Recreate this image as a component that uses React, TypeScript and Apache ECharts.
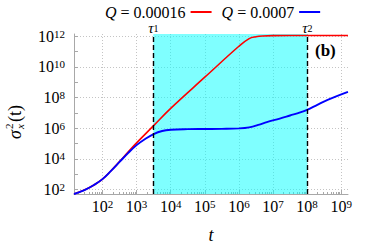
import React, { useEffect, useRef } from "react";
import * as echarts from "echarts";

// ---- data ----
const RED_T = [14.6, 20, 31.6, 56.2, 100, 178, 316, 562, 1000, 3160, 1e4, 1e5, 1e6, 2e6, 3.16e6, 5e6, 1e7, 1e8, 1.58e9];
const RED_S = [51.3, 66.1, 100, 200, 479, 1700, 6610, 2.82e4, 1.12e5, 1.48e6, 2e7, 2.14e9, 2.24e11, 7.08e11, 9.33e11, 1.05e12, 1.1e12, 1.12e12, 1.12e12];

const BLUE_T = [14.6, 20, 31.6, 56.2, 100, 178, 316, 562, 1000, 1780, 3160, 5620, 1e4, 3.16e4, 1e5, 3.16e5, 1e6, 2e6, 4e6, 6.6e6, 1.58e7, 3.16e7, 6.3e7, 1e8, 2e8, 4e8, 1.58e9];
const BLUE_S = [51.3, 66.1, 100, 200, 479, 1660, 6310, 2.4e4, 7.94e4, 2e5, 4.17e5, 6.61e5, 7.94e5, 8.71e5, 8.91e5, 9.12e5, 9.77e5, 1.15e6, 1.74e6, 2.51e6, 4.27e6, 6.76e6, 1.07e7, 1.58e7, 3.39e7, 7.08e7, 2.34e8];

const SERIES_NAMES = ["Q = 0.00016", "Q = 0.0007"];
const TAU = [3100, 1.02e8];
const TAU_LABELS = ["1", "2"];

const X_MAJOR = [1e2, 1e3, 1e4, 1e5, 1e6, 1e7, 1e8, 1e9];
const MINOR_MULTS = [2, 3, 4, 5, 6, 7, 8, 9];
const X_MINOR_DECADES = [10, 1e2, 1e3, 1e4, 1e5, 1e6, 1e7, 1e8, 1e9];
const Y_MAJOR = [1e2, 1e4, 1e6, 1e8, 1e10, 1e12];
const Y_ODD = [1e3, 1e5, 1e7, 1e9, 1e11];

const X_MIN = 14.6;
const X_MAX = 1.585e9;
const Y_MIN = 51.3;
const Y_MAX = 1.41e12;

const FONT = "'Liberation Serif', 'DejaVu Serif', serif";
const AXIS_GRAY = "#a8a8a8";

const X_MINOR: number[] = [];
X_MINOR_DECADES.forEach((d) => MINOR_MULTS.forEach((m) => X_MINOR.push(d * m)));

const powLabel = (v: number) => `{b|10}{s|${Math.round(Math.log10(v))}}`;
const powRich = {
  b: { fontSize: 16, fontFamily: FONT, color: "#000", verticalAlign: "bottom" },
  s: { fontSize: 11, fontFamily: FONT, color: "#000", verticalAlign: "top" },
};

export default function App() {
  const ref = useRef<HTMLDivElement>(null);

  useEffect(() => {
    if (!ref.current) return;
    const chart = echarts.init(ref.current, undefined, { renderer: "svg" });

    const red = RED_T.map((t, i) => [t, RED_S[i]]);
    const blue = BLUE_T.map((t, i) => [t, BLUE_S[i]]);

    const option: any = {
      animation: false,
      backgroundColor: "#fff",
      grid: { left: 74, right: 26, top: 34, bottom: 51 },
      legend: {
        top: -1,
        left: 100,
        align: "right",
        icon: "rect",
        itemWidth: 21,
        itemHeight: 2,
        itemGap: 10,
        data: SERIES_NAMES,
        formatter: (n: string) => n.replace("Q", "{i|Q}"),
        textStyle: {
          fontFamily: FONT,
          fontSize: 16,
          lineHeight: 15,
          color: "#000",
          rich: { i: { fontFamily: FONT, fontSize: 16, lineHeight: 15, fontStyle: "italic", color: "#000" } },
        },
      },
      xAxis: [
        {
          type: "log",
          logBase: 10,
          min: X_MIN,
          max: X_MAX,
          position: "bottom",
          name: "t",
          nameLocation: "middle",
          nameGap: 32,
          nameTextStyle: { fontFamily: FONT, fontSize: 18, fontStyle: "italic", color: "#000" },
          axisLine: { show: true, onZero: false, lineStyle: { color: AXIS_GRAY, width: 1 } },
          axisTick: { show: true, inside: true, length: 4, customValues: X_MAJOR, lineStyle: { color: AXIS_GRAY } },
          axisLabel: { customValues: X_MAJOR, formatter: powLabel, rich: powRich, margin: 4 },
          splitLine: { show: true, lineStyle: { color: "#c4c4c4", type: [1, 2], width: 1 } },
        },
        {
          type: "log",
          logBase: 10,
          min: X_MIN,
          max: X_MAX,
          position: "bottom",
          axisLine: { show: false },
          axisTick: { show: true, inside: true, length: 2, customValues: X_MINOR, lineStyle: { color: AXIS_GRAY } },
          axisLabel: { show: false },
          splitLine: { show: false },
        },
      ],
      yAxis: [
        {
          type: "log",
          logBase: 10,
          min: Y_MIN,
          max: Y_MAX,
          position: "left",
          axisLine: { show: true, onZero: false, lineStyle: { color: AXIS_GRAY, width: 1 } },
          axisTick: { show: true, inside: true, length: 4, customValues: Y_MAJOR, lineStyle: { color: AXIS_GRAY } },
          axisLabel: { customValues: Y_MAJOR, formatter: powLabel, rich: powRich, margin: 9 },
          splitLine: { show: true, lineStyle: { color: "#c4c4c4", type: [1, 2], width: 1 } },
        },
        {
          type: "log",
          logBase: 10,
          min: Y_MIN,
          max: Y_MAX,
          position: "left",
          axisLine: { show: false },
          axisTick: { show: true, inside: true, length: 4, customValues: Y_ODD, lineStyle: { color: AXIS_GRAY } },
          axisLabel: { show: false },
          splitLine: { show: false },
        },
      ],
      series: [
        {
          name: SERIES_NAMES[0],
          type: "line",
          xAxisIndex: 0,
          yAxisIndex: 0,
          data: red,
          showSymbol: false,
          smooth: 0.4,
          color: "#ff0000",
          lineStyle: { color: "#ff0000", width: 1.6 },
          markArea: {
            silent: true,
            itemStyle: { color: "rgba(0,255,255,0.5)" },
            data: [[{ xAxis: TAU[0] }, { xAxis: TAU[1] }]],
          },
          markLine: {
            silent: true,
            symbol: ["none", "none"],
            lineStyle: { color: "#000", type: [5, 3], width: 1.4 },
            label: {
              show: true,
              position: "end",
              distance: 1,
              rich: {
                i: { fontFamily: FONT, fontSize: 15, lineHeight: 13, fontStyle: "italic", color: "#000", verticalAlign: "top" },
                s: { fontFamily: FONT, fontSize: 10, lineHeight: 10, color: "#000", verticalAlign: "bottom" },
              },
            },
            data: TAU.map((t, i) => ({
              xAxis: t,
              label: { formatter: `{i|τ}{s|${TAU_LABELS[i]}}` },
            })),
          },
        },
        {
          name: SERIES_NAMES[1],
          type: "line",
          xAxisIndex: 0,
          yAxisIndex: 0,
          data: blue,
          showSymbol: false,
          smooth: 0.4,
          color: "#0000ff",
          lineStyle: { color: "#0000ff", width: 1.9 },
        },
      ],
      graphic: [
        {
          type: "text",
          x: 315,
          y: 50,
          style: {
            text: "(b)",
            fontFamily: FONT,
            fontSize: 17,
            fontWeight: "bold",
            fill: "#000",
            verticalAlign: "middle",
            align: "left",
          },
        },
        {
          type: "group",
          x: 15,
          y: 118,
          rotation: Math.PI / 2,
          children: [
            { type: "text", x: -21, y: 0, style: { text: "σ", fontFamily: FONT, fontSize: 18, fontStyle: "italic", fill: "#000", verticalAlign: "middle", align: "left" } },
            { type: "text", x: -11, y: -6, style: { text: "2", fontFamily: FONT, fontSize: 11, fill: "#000", verticalAlign: "middle", align: "left" } },
            { type: "text", x: -11, y: 5, style: { text: "x", fontFamily: FONT, fontSize: 11, fontStyle: "italic", fill: "#000", verticalAlign: "middle", align: "left" } },
            { type: "text", x: -4, y: 0, style: { text: "(t)", fontFamily: FONT, fontSize: 18, fill: "#000", verticalAlign: "middle", align: "left" } },
          ],
        },
      ],
    };

    chart.setOption(option);
    return () => chart.dispose();
  }, []);

  return <div ref={ref} style={{ width: 374, height: 249, position: "absolute", left: 0, top: 0 }} />;
}
